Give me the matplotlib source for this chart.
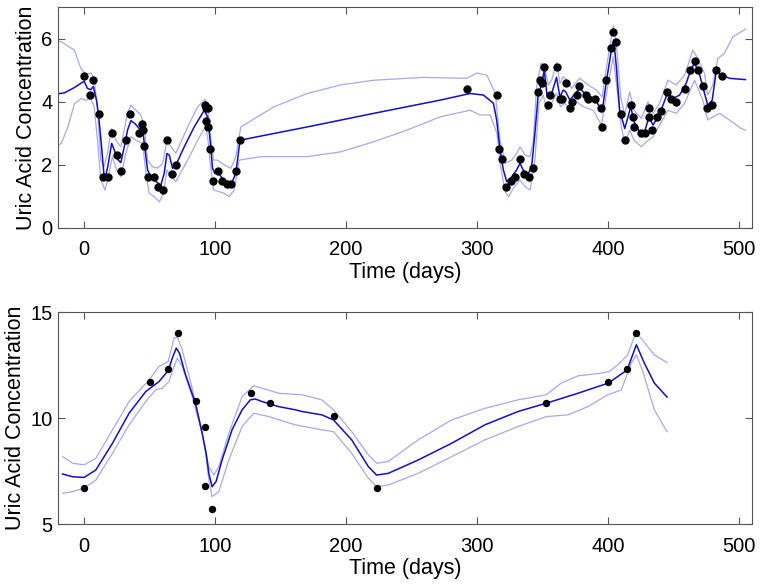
import matplotlib
matplotlib.use("Agg")
import matplotlib.pyplot as plt

plt.rcParams['font.family'] = ['Liberation Sans', 'DejaVu Sans']

# ---- top panel: observations ----
obs1_t = [0, 4.6, 7, 11, 14, 18, 21, 25, 28, 32, 35, 42, 44, 45, 46, 49, 53, 56, 60, 63, 67, 70,
          92.4, 93.4, 94.4, 93.4, 94.4, 96, 98.2, 102, 105.3, 108.7, 112, 116, 119,
          292.2, 315, 316.6, 318.9, 322, 325.7, 328.8, 332.8, 335.6, 339.7, 343,
          346.5, 347.8, 349.8, 351.3, 353.9, 355.9, 360.7, 363.7, 365.2, 367.8, 370.9, 372.6,
          376, 378, 383, 384.8, 390, 395, 395.5, 398.6, 402.6, 403.9, 406, 409.7, 412.8,
          417.4, 419.1, 420.2, 425.5, 428.5, 431.3, 431.3, 433.6, 437.7, 440.7, 444.8, 448,
          451.9, 458.7, 462.8, 466.1, 468.9, 472.7, 475.5, 479.6, 482.6, 486.7]
obs1_y = [4.8, 4.2, 4.7, 3.6, 1.6, 1.6, 3.0, 2.3, 1.8, 2.8, 3.6, 3.0, 3.3, 3.1, 2.6, 1.6, 1.6, 1.3, 1.2, 2.8, 1.7, 2.0,
          3.9, 3.8, 3.8, 3.4, 3.2, 2.5, 1.5, 1.8, 1.5, 1.4, 1.4, 1.8, 2.8,
          4.4, 4.2, 2.5, 2.2, 1.3, 1.5, 1.6, 2.2, 1.7, 1.6, 1.9,
          4.3, 4.7, 4.6, 5.1, 3.9, 4.2, 5.1, 4.1, 4.1, 4.6, 3.8, 4.0,
          4.2, 4.5, 4.2, 4.1, 4.1, 3.8, 3.2, 4.7, 5.7, 6.2, 5.9, 3.6, 2.8,
          3.9, 3.5, 3.2, 3.0, 3.0, 3.8, 3.5, 3.1, 3.5, 3.7, 4.3, 4.1,
          4.0, 4.4, 5.0, 5.3, 5.0, 4.5, 3.8, 3.9, 5.0, 4.8]

# ---- top panel: posterior mean ----
mean1_t = [-20, -15, -7.4, 0, 2.5, 5, 7, 9.4, 11, 13, 15, 16.6, 18, 21, 23, 26, 28, 30.6, 33.1, 35.7,
           38.7, 42, 44.6, 45.9, 48.4, 51, 54.8, 58.6, 61.1, 63.2, 65, 67.5, 70, 76.4, 84, 91.7,
           94.2, 96.2, 98, 99.8, 102.3, 105.6, 109.4, 112.5, 115.8, 119, 134.7, 170.3, 221, 271.9,
           294.7, 304.9, 312.5, 315, 317.6, 320.1, 322.7, 326.5, 330.3, 332.8, 335.9, 339.2, 341.7,
           344.2, 346.8, 349.3, 351.3, 353.6, 357, 360.7, 363.3, 365.8, 367.8, 370.9, 376, 378.5,
           383.6, 390, 395.5, 398.9, 402.6, 404.4, 406.4, 408.9, 412.8, 415.3, 417.4, 419.9, 424.2,
           428, 431.3, 434.4, 438.2, 442, 445.3, 449.6, 454.7, 459.7, 463.5, 466.1, 469.4, 472.4,
           476.2, 479.6, 482.6, 487.2, 492.8, 505]
mean1_y = [4.25, 4.28, 4.45, 4.65, 4.42, 4.38, 4.48, 4.05, 3.58, 2.7, 1.73, 1.68, 1.94, 2.68, 2.47, 2.15, 2.07, 2.57, 3.1, 3.4,
           3.31, 3.15, 3.15, 2.68, 1.84, 1.62, 1.47, 1.36, 1.73, 2.36, 2.31, 1.89, 1.99, 2.57, 3.2, 3.73,
           3.52, 2.78, 1.89, 1.73, 1.75, 1.57, 1.43, 1.41, 1.73, 2.78, 2.91, 3.2, 3.63, 4.05,
           4.26, 4.21, 3.95, 3.42, 2.47, 1.84, 1.47, 1.62, 1.84, 2.05, 1.78, 1.73, 1.94,
           3.0, 4.26, 4.53, 5.0, 4.15, 4.26, 4.77, 4.15, 4.37, 4.31, 4.05, 4.31, 4.42,
           4.21, 4.1, 3.68, 4.68, 5.63, 5.95, 5.1, 3.73, 3.15, 3.52, 3.84, 3.36, 3.05,
           3.05, 3.52, 3.26, 3.52, 3.89, 4.26, 4.1, 4.21, 4.58, 5.05, 5.21, 4.95, 4.47,
           3.89, 4.05, 4.95, 4.84, 4.74, 4.7]

# ---- top panel: upper / lower band ----
up1_t = [-20, -17.5, -7.4, -2.5, 1.3, 5.1, 7.6, 10.2, 12.7, 15.2, 17.8, 20.8, 24.1, 28, 33, 35.7, 39.5,
         43.3, 45.9, 48.4, 52.2, 56.1, 60, 63.2, 66.3, 70, 79, 86.7, 92.3, 94.3, 96.8, 98.8, 101.8,
         106.9, 112, 115.8, 119.6, 145, 170.3, 195.7, 221, 259, 292, 300, 307.6, 314, 316.5, 317.6,
         321.4, 326.5, 330.3, 332.8, 336.7, 340.5, 343, 345.5, 348.8, 351.3, 354.4, 357, 360.7,
         363.3, 365.8, 368.4, 372.2, 376, 378.5, 384.8, 391.2, 395.5, 398.9, 404, 406.4, 409.7,
         412.8, 416.6, 419.9, 425.5, 430.5, 434.4, 439.4, 445.8, 452.1, 458.5, 464.8, 468.6,
         473.7, 476.2, 480.1, 483.9, 488.9, 495.3, 505]
up1_y = [5.92, 5.9, 5.63, 5.05, 4.87, 4.91, 4.74, 3.73, 2.15, 1.94, 2.37, 3.15, 2.78, 2.57, 3.63, 3.89, 3.73,
         3.58, 3.2, 2.15, 1.94, 1.9, 2.05, 2.78, 2.57, 2.37, 3.2, 3.84, 4.08, 3.84, 2.78, 2.15, 2.15,
         2.0, 1.89, 2.26, 3.2, 3.84, 4.26, 4.53, 4.68, 4.77, 4.74, 4.91, 4.84, 4.26, 3.2, 2.78,
         2.05, 2.15, 2.36, 2.57, 2.31, 2.26, 2.78, 4.47, 5.21, 5.16, 4.53, 4.68, 5.24,
         4.58, 4.79, 4.68, 4.42, 4.63, 4.74, 4.53, 4.37, 4.15, 5.1, 6.42, 5.84, 4.15,
         3.58, 4.31, 3.73, 3.47, 4.0, 3.63, 3.95, 4.68, 4.53, 4.84, 5.63, 5.37,
         4.9, 4.21, 4.53, 5.37, 5.53, 6.05, 6.3]
lo1_t = [-20, -17.5, -12.4, -7.4, -2.3, 1.3, 5.1, 7.6, 10.2, 12.7, 16, 19, 21.5, 24.8, 28, 31.8, 35.7,
         39.5, 44.6, 47.2, 49.7, 53.5, 57.4, 60.6, 63.2, 66.3, 70, 79, 86.7, 92.3, 94.3, 96.8, 98.8,
         103, 106.9, 110.7, 114.5, 118.4, 134.7, 170.3, 195.7, 221, 246.5, 271.9, 294.7, 302.3, 310,
         315.2, 317.6, 321.4, 324, 327.8, 332.8, 336.7, 340.5, 344.2, 347.3, 350.6, 353.1, 357,
         360.7, 363.8, 367.1, 370.9, 376, 381.1, 388.7, 395, 398.9, 404, 406.4, 410.2, 412.8,
         416.6, 419.9, 425.5, 429.3, 434.4, 440.7, 445.8, 452.1, 458.5, 466.1, 472.4, 476.2,
         480.1, 485.2, 492.8, 501.7, 505]
lo1_y = [2.62, 2.68, 3.2, 3.94, 4.1, 4.05, 4.1, 3.84, 2.78, 1.52, 1.2, 1.73, 2.26, 1.84, 1.62, 2.36, 2.89,
         2.78, 2.68, 1.73, 1.1, 0.99, 0.83, 1.1, 1.84, 1.62, 1.47, 2.15, 2.78, 3.2, 2.89, 1.84, 1.2,
         1.15, 1.1, 0.99, 1.2, 2.15, 2.26, 2.26, 2.41, 2.73, 3.1, 3.52, 3.73, 3.58, 3.58,
         3.0, 2.05, 1.15, 0.99, 1.26, 1.52, 1.31, 1.2, 2.15, 3.95, 4.21, 3.73, 3.95,
         4.26, 3.84, 3.95, 3.73, 4.0, 3.84, 3.73, 3.26, 4.26, 5.42, 4.58, 3.2, 2.68,
         3.1, 2.78, 2.57, 2.73, 2.89, 3.36, 3.73, 3.63, 3.95, 4.68, 4.05, 3.42,
         3.52, 3.63, 3.42, 3.15, 3.1]

# ---- bottom panel ----
obs2_t = [0, 50.3, 64.2, 71.3, 85.5, 92.6, 92.4, 97.5, 127.2, 141.7, 190.4, 223.6, 352.9, 400.3, 414.6, 421.7]
obs2_y = [6.7, 11.7, 12.3, 14.0, 10.8, 9.6, 6.8, 5.7, 11.2, 10.7, 10.1, 6.7, 10.7, 11.7, 12.3, 14.0]

mean2_t = [-16.5, -8.9, 0, 8.9, 21.6, 34.3, 47, 57.1, 64.2, 67.3, 70.3, 72.8, 77.4, 85, 90.1, 93.1,
           95.2, 97.7, 100.7, 105.3, 112.9, 120.6, 126.9, 130.7, 135.8, 148.5, 161.2, 166.3, 181.5,
           190.4, 204.3, 217, 223.3, 232.2, 255, 280.6, 306, 331.3, 352.9, 377, 400.3, 414.6, 421.7,
           427.8, 435.4, 445.1]
mean2_y = [7.36, 7.23, 7.2, 7.55, 8.81, 10.23, 11.25, 11.72, 12.24, 12.83, 13.3, 13.06, 12.04, 10.7, 9.28, 8.34,
           7.39, 6.76, 7.0, 8.02, 9.44, 10.39, 10.86, 10.9, 10.78, 10.54, 10.39, 10.31, 10.15,
           9.91, 8.97, 7.71, 7.31, 7.39, 8.02, 8.81, 9.68, 10.31, 10.7, 11.17, 11.65, 12.27, 13.46,
           12.59, 11.65, 10.99]

up2_t = [-16.5, -8.9, 0, 8.9, 21.6, 34.3, 49.6, 57.1, 64.2, 68.6, 71.1, 74.9, 82.5, 90.1, 95.2, 99,
         102.8, 110.4, 120.6, 129.4, 135.8, 148.5, 166.3, 181.5, 190.4, 204.3, 217, 223.3, 232.2,
         255, 280.6, 306, 331.3, 352.9, 364.3, 377, 394.8, 401.1, 407.5, 415.1, 421, 425.3, 435.4, 445.1]
up2_y = [8.18, 7.87, 7.79, 8.1, 9.44, 10.78, 11.8, 12.43, 12.67, 13.77, 13.82, 13.22, 11.41, 9.28, 7.71, 7.31,
         7.71, 9.28, 11.01, 11.52, 11.41, 11.17, 11.1, 10.86, 10.39, 9.36, 8.26, 7.87, 7.95,
         8.97, 9.91, 10.46, 10.86, 11.1, 11.65, 11.99, 12.12, 12.2, 12.51, 12.98, 14.0, 13.77, 12.98, 12.62]
lo2_t = [-16.5, -8.9, 0, 8.9, 21.6, 34.3, 47, 54.6, 59.7, 64.7, 68.6, 71.1, 74.9, 82.5, 90.1, 92.6,
         95.2, 97.7, 102.8, 110.4, 120.6, 129.4, 140.9, 161.2, 181.5, 190.4, 204.3, 217, 223.3,
         232.2, 255, 280.6, 306, 331.3, 352.9, 369.4, 384.7, 400, 410.2, 417.8, 421.7, 426.6, 435.4, 445.1]
lo2_y = [6.45, 6.53, 6.69, 7.08, 8.34, 9.68, 10.78, 11.33, 11.41, 11.72, 12.43, 12.83, 12.43, 11.01, 9.28, 8.42,
         7.08, 6.29, 6.53, 8.02, 9.6, 10.23, 10.07, 9.68, 9.44, 9.36, 8.34, 7.16, 6.76,
         6.84, 7.39, 8.18, 8.97, 9.6, 10.07, 10.15, 10.54, 11.1, 11.33, 12.59, 12.98, 12.2, 10.39, 9.36]

mean_col = '#1010c8'
band_col = '#a8a8f0'

fig = plt.figure(figsize=(7.61, 5.87), dpi=100)
ax1 = fig.add_axes([0.0762, 0.6116, 0.912, 0.3765])
ax2 = fig.add_axes([0.0762, 0.1073, 0.912, 0.361])

panels = [
    (ax1, obs1_t, obs1_y, mean1_t, mean1_y, up1_t, up1_y, lo1_t, lo1_y, (0, 7), [0, 2, 4, 6], 5),
    (ax2, obs2_t, obs2_y, mean2_t, mean2_y, up2_t, up2_y, lo2_t, lo2_y, (5, 15), [5, 10, 15], 4.3),
]
for ax, ot, oy, mt, my, ut, uy, lt, ly, ylim, yt, ms in panels:
    ax.plot(ut, uy, color=band_col, lw=0.9)
    ax.plot(lt, ly, color=band_col, lw=0.9)
    ax.plot(mt, my, color=mean_col, lw=1.1)
    ax.plot(ot, oy, 'o', color='k', ms=ms, zorder=5)
    ax.set_xlim(-20, 510)
    ax.set_ylim(*ylim)
    ax.set_xticks([0, 100, 200, 300, 400, 500])
    ax.set_yticks(yt)
    ax.tick_params(direction='in', top=True, right=True, labelsize=14.5, length=5,
                   color='#555555', width=0.8)
    ax.tick_params(axis='x', pad=9)
    ax.tick_params(axis='y', pad=4)
    for s in ax.spines.values():
        s.set_color('#555555')
        s.set_linewidth(0.8)
    ax.set_xlabel('Time (days)', fontsize=15.5, labelpad=2)
    ax.set_ylabel('Uric Acid Concentration', fontsize=15.5, labelpad=3)

fig.savefig('out.png', dpi=100)
